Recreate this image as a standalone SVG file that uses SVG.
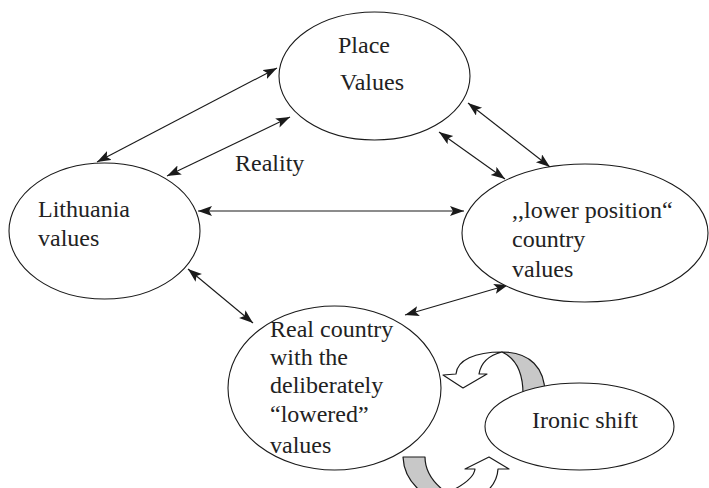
<svg xmlns="http://www.w3.org/2000/svg" width="709" height="488" viewBox="0 0 709 488">
<style>
.node{fill:#fff;stroke:#1a1a1a;stroke-width:1.1}
.lbl{font-family:"Liberation Serif","Times New Roman",serif;font-size:24px;fill:#222}
.conn{stroke:#1a1a1a;stroke-width:1.1;fill:none;marker-start:url(#ah);marker-end:url(#ah)}
.ribbon{stroke:#1a1a1a;stroke-width:1.2;stroke-linejoin:round}
</style>
<defs>
<marker id="ah" markerUnits="userSpaceOnUse" markerWidth="16" markerHeight="12" refX="14" refY="5" orient="auto-start-reverse">
<path d="M0,0 L14,5 L0,10 L3,5 z" fill="#1a1a1a"/>
</marker>
</defs>
<rect width="709" height="488" fill="#fff"/>
<g id="shift-arrows">
<path class="ribbon" fill="#c8c8c8" d="M502,352 C530,352 545,368 545,394 L523,394 C523,372 515,358 502,352 Z"/>
<path class="ribbon" fill="#fff" d="M502,352 C475,352 457,360 456,374 L443,375 L463,388 L487,374 L479,374 C481,362 490,355 502,352 Z"/>
<path class="ribbon" fill="#c8c8c8" d="M403,457 L425,457 C425,472 433,483 447,493 L452,506 C425,500 404,482 403,457 Z"/>
<path class="ribbon" fill="#fff" d="M447,493 C462,486 474,478 475,469 L465,469 L489,457 L509,469 L498,469 C497,488 478,503 452,506 Z"/>
</g>
<g id="connectors">
<line class="conn" x1="97" y1="162" x2="277" y2="68"/>
<line class="conn" x1="167" y1="176" x2="290" y2="117"/>
<line class="conn" x1="198" y1="211" x2="464" y2="211"/>
<line class="conn" x1="188" y1="269" x2="253" y2="323"/>
<line class="conn" x1="405" y1="315" x2="508" y2="285"/>
<line class="conn" x1="468" y1="103" x2="550" y2="167"/>
<line class="conn" x1="439" y1="132" x2="505" y2="179"/>
</g>
<g id="place">
<ellipse class="node" cx="374.5" cy="76" rx="95.5" ry="64"/>
<text class="lbl" x="338" y="53">Place</text>
<text class="lbl" x="340" y="90">Values</text>
</g>
<g id="lithuania">
<ellipse class="node" cx="104.5" cy="231" rx="95.5" ry="68"/>
<text class="lbl" x="38" y="217">Lithuania</text>
<text class="lbl" x="38" y="246">values</text>
</g>
<g id="lower">
<ellipse class="node" cx="585" cy="233" rx="123" ry="69"/>
<text class="lbl" x="512" y="218">,,lower position“</text>
<text class="lbl" x="512" y="247">country</text>
<text class="lbl" x="512" y="277">values</text>
</g>
<g id="real">
<ellipse class="node" cx="334.5" cy="388" rx="106.5" ry="82"/>
<text class="lbl" x="270" y="337">Real country</text>
<text class="lbl" x="270" y="365">with the</text>
<text class="lbl" x="270" y="393">deliberately</text>
<text class="lbl" x="270" y="422">“lowered”</text>
<text class="lbl" x="270" y="453">values</text>
</g>
<g id="ironic">
<ellipse class="node" cx="579.5" cy="426.5" rx="94.5" ry="43.5"/>
<text class="lbl" x="532" y="428">Ironic shift</text>
</g>
<g id="reality-label">
<text class="lbl" x="235" y="171">Reality</text>
</g>
</svg>
